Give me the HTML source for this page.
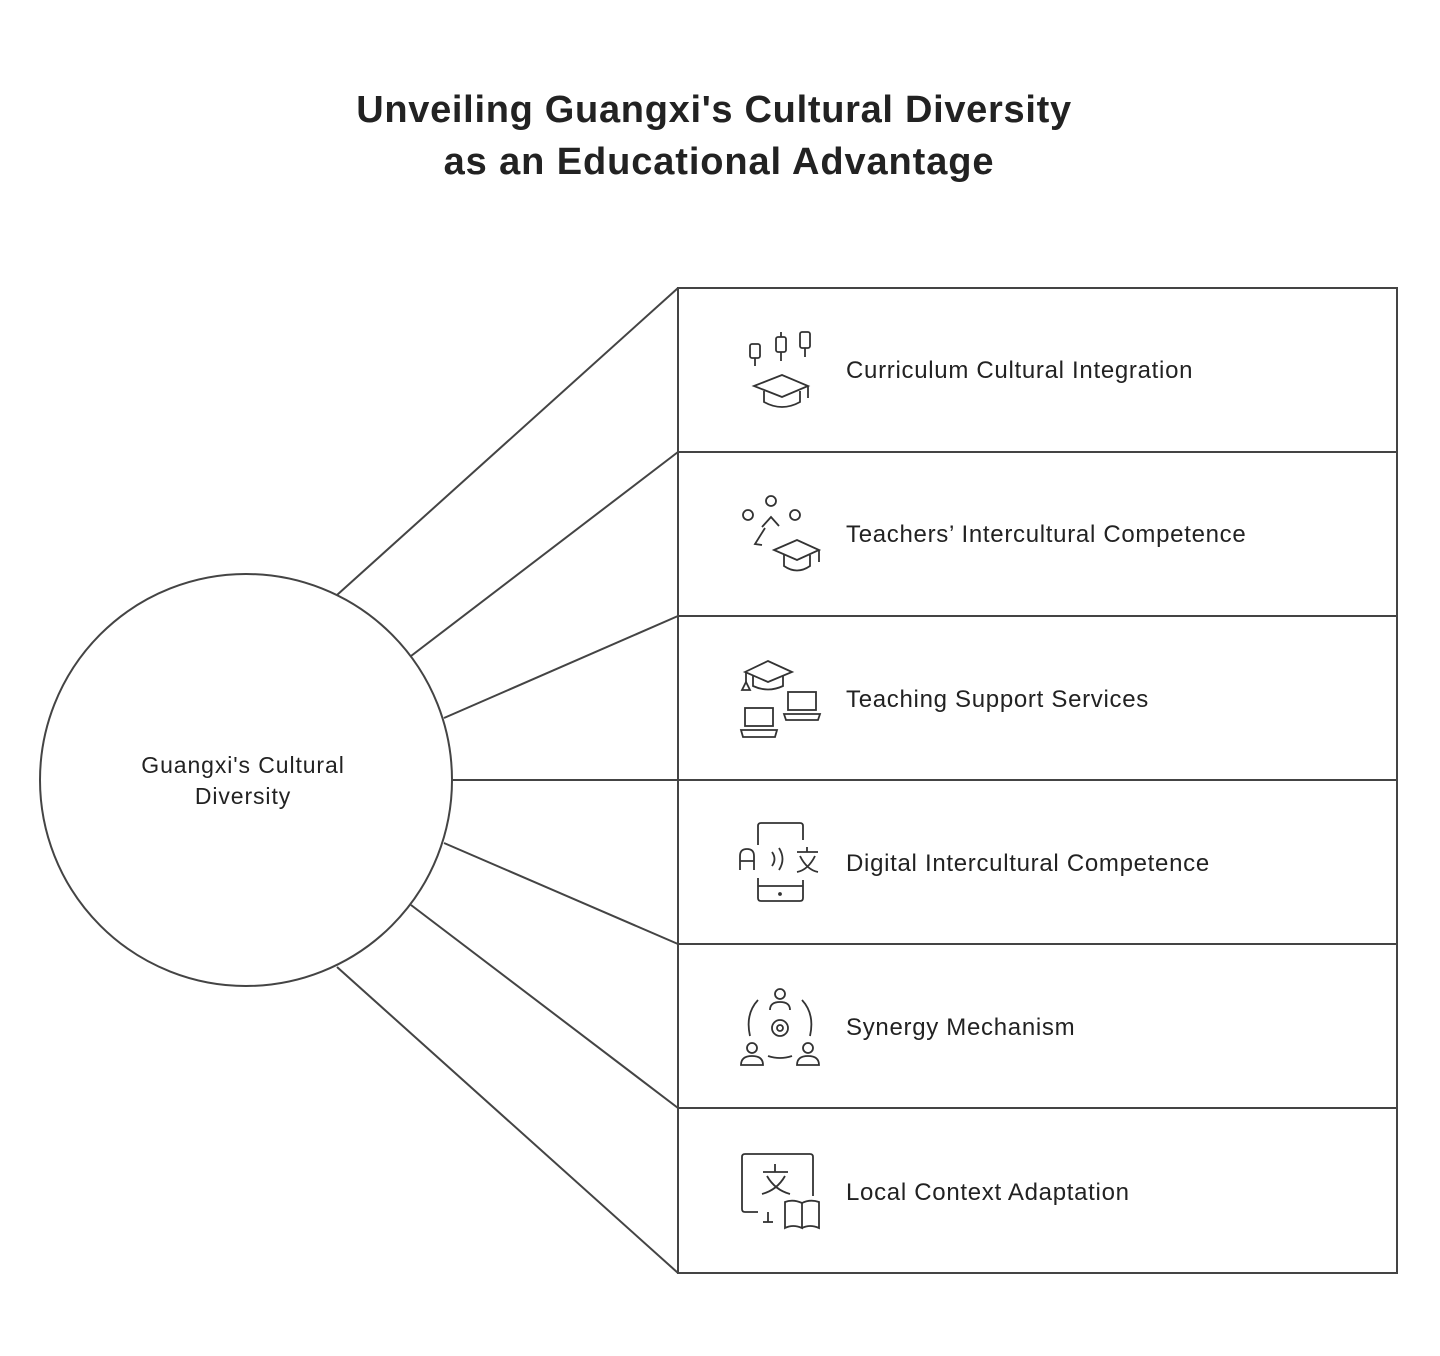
<!DOCTYPE html>
<html><head><meta charset="utf-8"><style>
html,body{margin:0;padding:0;background:#fff;}
svg{display:block;}
text{font-family:"Liberation Sans",sans-serif;fill:#222;}
</style></head><body>
<svg width="1440" height="1356" viewBox="0 0 1440 1356" xmlns="http://www.w3.org/2000/svg">
<rect width="1440" height="1356" fill="#fff"/>
<text x="714" y="122" text-anchor="middle" font-size="38" font-weight="bold" letter-spacing="0.7" fill="#111">Unveiling Guangxi's Cultural Diversity</text>
<text x="719" y="174" text-anchor="middle" font-size="38" font-weight="bold" letter-spacing="0.9" fill="#111">as an Educational Advantage</text>

<g stroke="#444" stroke-width="2" fill="none">
<rect x="678" y="288" width="719" height="985"/>
<line x1="678" y1="452" x2="1397" y2="452"/>
<line x1="678" y1="616" x2="1397" y2="616"/>
<line x1="678" y1="780" x2="1397" y2="780"/>
<line x1="678" y1="944" x2="1397" y2="944"/>
<line x1="678" y1="1108" x2="1397" y2="1108"/>
<line x1="337" y1="595" x2="678" y2="288"/>
<line x1="411" y1="656" x2="678" y2="452"/>
<line x1="444" y1="718" x2="678" y2="616"/>
<line x1="452" y1="780" x2="678" y2="780"/>
<line x1="444" y1="843" x2="678" y2="944"/>
<line x1="411" y1="905" x2="678" y2="1108"/>
<line x1="337" y1="967" x2="678" y2="1273"/>
</g>
<circle cx="246" cy="780" r="206" fill="#fff" stroke="#444" stroke-width="2"/>
<text x="243" y="773" text-anchor="middle" font-size="23" letter-spacing="0.9">Guangxi's Cultural</text>
<text x="243" y="804" text-anchor="middle" font-size="23" letter-spacing="0.9">Diversity</text>

<g font-size="24" letter-spacing="0.7">
<text x="846" y="378">Curriculum Cultural Integration</text>
<text x="846" y="542">Teachers’ Intercultural Competence</text>
<text x="846" y="707">Teaching Support Services</text>
<text x="846" y="871">Digital Intercultural Competence</text>
<text x="846" y="1035">Synergy Mechanism</text>
<text x="846" y="1200">Local Context Adaptation</text>
</g>

<g stroke="#333" stroke-width="1.8" fill="none">
<rect x="750" y="344" width="10" height="14" rx="2"/><line x1="755" y1="358" x2="755" y2="366"/>
<rect x="776" y="337" width="10" height="15" rx="2"/><line x1="781" y1="332" x2="781" y2="337"/><line x1="781" y1="352" x2="781" y2="361"/>
<rect x="800" y="332" width="10" height="16" rx="2"/><line x1="805" y1="348" x2="805" y2="357"/>
<path d="M754 386 L782 375 L808 386 L782 397 Z"/><path d="M764 391 V402 Q782 412 800 402 V391"/><line x1="808" y1="386" x2="808" y2="398"/>
<circle cx="748" cy="515" r="5"/><circle cx="771" cy="501" r="5"/><circle cx="795" cy="515" r="5"/>
<path d="M762 527 L771 517 L779 526"/><path d="M765 528 L755 544 L762 545"/>
<path d="M774 550 L797 540 L819 550 L797 560 Z"/><path d="M784 555 V566 Q797 575 810 566 V555"/><line x1="819" y1="550" x2="819" y2="562"/>
<path d="M745 672 L768 661 L792 672 L768 682 Z"/><path d="M753 676 V686 Q768 693 783 686 V676"/><line x1="746" y1="672" x2="746" y2="684"/><path d="M742 690 L746 682 L750 690 Z"/>
<rect x="788" y="692" width="28" height="18"/><path d="M784 714 H820 L818 720 H786 Z"/>
<rect x="745" y="708" width="28" height="18"/><path d="M741 730 H777 L775 737 H743 Z"/>
<path d="M758 845 V826 Q758 823 761 823 H800 Q803 823 803 826 V840"/><path d="M758 878 V898 Q758 901 761 901 H800 Q803 901 803 898 V880"/><line x1="758" y1="886" x2="803" y2="886"/><circle cx="780" cy="894" r="1" fill="#333"/>
<path d="M740 870 V856 Q740 849 747 849 Q754 849 754 856 V870 M740 861 H754"/>
<path d="M772 852 Q777 859 772 866"/><path d="M779 848 Q786 859 779 870"/>
<path d="M797 852 H818 M807 847 V852 M800 856 Q807 870 818 872 M815 856 Q808 870 797 872"/>
<circle cx="780" cy="994" r="5"/><path d="M770 1010 Q770 1002 780 1002 Q790 1002 790 1010"/>
<path d="M758 1000 Q745 1014 750 1036"/><path d="M802 1000 Q815 1014 810 1036"/><path d="M768 1056 Q780 1060 792 1056"/>
<circle cx="780" cy="1028" r="8"/><circle cx="780" cy="1028" r="3"/>
<circle cx="752" cy="1048" r="5"/><path d="M741 1065 Q741 1056 752 1056 Q763 1056 763 1065 Z"/>
<circle cx="808" cy="1048" r="5"/><path d="M797 1065 Q797 1056 808 1056 Q819 1056 819 1065 Z"/>
<path d="M758 1212 H745 Q742 1212 742 1209 V1157 Q742 1154 745 1154 H810 Q813 1154 813 1157 V1196"/>
<line x1="768" y1="1212" x2="768" y2="1222"/><line x1="763" y1="1222" x2="773" y2="1222"/>
<path d="M763 1172 H788 M775 1164 V1172 M767 1176 Q775 1190 790 1194 M785 1176 Q777 1190 762 1194"/>
<path d="M785 1202 Q793 1199 802 1203 V1228 Q793 1224 785 1228 Z"/><path d="M802 1203 Q810 1199 819 1202 V1228 Q810 1224 802 1228"/>
</g>
</svg>
</body></html>
